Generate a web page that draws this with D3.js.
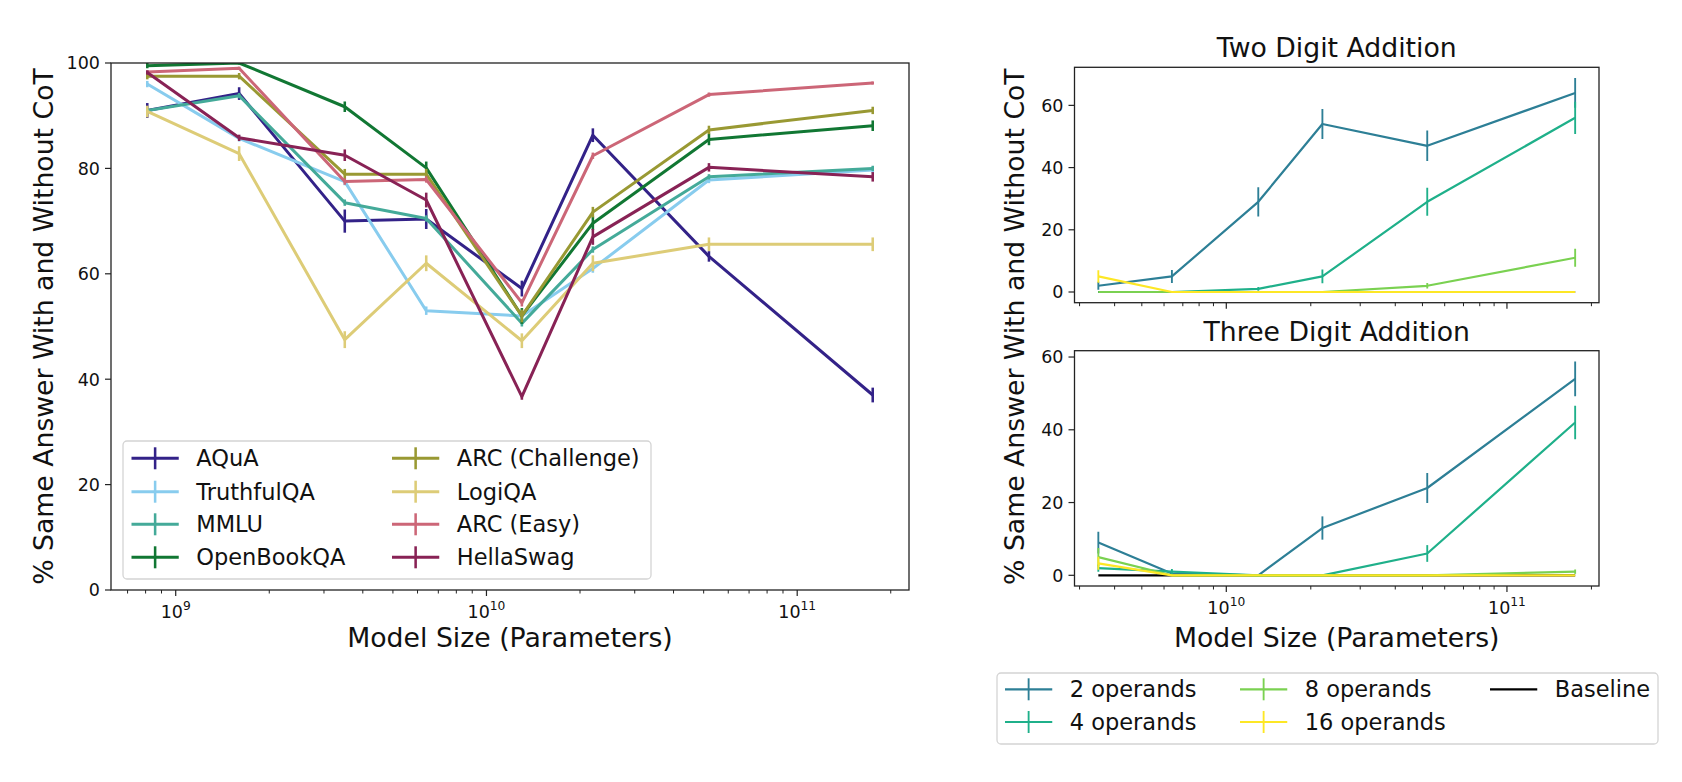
<!DOCTYPE html>
<html>
<head>
<meta charset="utf-8">
<script src="https://cdn.jsdelivr.net/npm/d3@7"></script>
<style>
  body { margin: 0; background: #fff; }
  text { font-family: "DejaVu Sans", sans-serif; fill: #111; }
</style>
</head>
<body>
<svg id="chart" width="1682" height="782"></svg>
<script>
// model sizes (parameters)
const modelSizes = [8.1e8, 1.6e9, 3.5e9, 6.4e9, 1.3e10, 2.2e10, 5.2e10, 1.75e11]
const arithSizes = modelSizes.slice(2)

// left panel: % same answer per benchmark
const benchNames = ['AQuA', 'TruthfulQA', 'MMLU', 'OpenBookQA', 'ARC (Challenge)', 'LogiQA', 'ARC (Easy)', 'HellaSwag']
const benchColors = ['#332288', '#88ccee', '#44aa99', '#117733', '#999933', '#ddcc77', '#cc6677', '#882255']
const aqua = [91.0, 94.2, 70.0, 70.4, 57.2, 86.3, 63.3, 37.0]
const aquaErr = [1.4, 1.2, 2.2, 1.9, 1.5, 1.3, 1.0, 1.4]
const truthfulqa = [96.0, 85.7, 77.5, 53.0, 52.0, 61.0, 77.8, 79.7]
const truthfulqaErr = [0.6, 0.6, 0.7, 0.8, 0.7, 0.8, 0.6, 0.6]
const mmlu = [91.0, 93.8, 73.5, 70.5, 50.6, 64.6, 78.4, 80.0]
const mmluErr = [0.5, 0.5, 0.6, 0.6, 0.6, 0.6, 0.5, 0.5]
const openbookqa = [99.5, 100.0, 91.7, 80.1, 52.0, 69.6, 85.5, 88.1]
const openbookqaErr = [0.5, 0.3, 1.0, 1.2, 1.5, 1.3, 1.1, 1.0]
const arcChallenge = [97.5, 97.5, 78.9, 78.9, 52.0, 71.7, 87.3, 91.0]
const arcChallengeErr = [0.6, 0.6, 1.0, 1.0, 1.2, 1.0, 0.8, 0.7]
const logiqa = [90.8, 82.8, 47.5, 62.0, 47.3, 62.0, 65.6, 65.6]
const logiqaErr = [1.1, 1.4, 1.6, 1.5, 1.4, 1.5, 1.3, 1.3]
const arcEasy = [98.3, 99.0, 77.5, 77.9, 54.5, 82.4, 94.0, 96.2]
const arcEasyErr = [0.3, 0.3, 0.6, 0.6, 0.7, 0.6, 0.4, 0.3]
const hellaswag = [98.2, 85.8, 82.5, 74.0, 36.7, 67.0, 80.2, 78.4]
const hellaswagErr = [0.4, 0.6, 1.1, 1.4, 0.6, 1.5, 0.8, 0.9]
const leftYTicks = [0, 20, 40, 60, 80, 100]

// right panels: addition tasks
const operandNames = ['2 operands', '4 operands', '8 operands', '16 operands', 'Baseline']
const operandColors = ['#2d7f96', '#1fb08a', '#7ad151', '#fde725', '#000000']
const two2 = [2, 5, 29, 54, 47, 64]
const two2Err = [1.3, 2.1, 4.7, 4.8, 4.9, 4.8]
const two4 = [0, 0, 1, 5, 29, 56]
const two4Err = [0, 0, 0.6, 2.2, 4.5, 5.2]
const two8 = [0, 0, 0, 0, 2, 11]
const two8Err = [0, 0, 0, 0, 0.9, 2.9]
const two16 = [5, 0, 0, 0, 0, 0]
const two16Err = [2, 0, 0, 0, 0, 0]
const three2 = [9, 0.5, 0, 13, 24, 54]
const three2Err = [3, 0.5, 0, 3.2, 4.1, 4.8]
const three4 = [2, 1, 0, 0, 6, 42]
const three4Err = [1, 0.7, 0, 0, 2.3, 4.6]
const three8 = [5, 0, 0, 0, 0, 1]
const three8Err = [2.5, 0, 0, 0, 0, 0.6]
const three16 = [3.3, 0, 0, 0, 0, 0]
const three16Err = [1.8, 0, 0, 0, 0, 0]
const baseline = [0, 0, 0, 0, 0, 0]
const rightYTicks = [0, 20, 40, 60]

const svg = d3.select('#chart')
const tickFont = 17.5, labelFont = 26.7, legendFont = 22.5
var clipId = 0

// log domain with matplotlib style 5% margins
function logDomain (xs) {
  var a = Math.log10(d3.min(xs)), b = Math.log10(d3.max(xs)), m = (b - a) * 0.05
  return [Math.pow(10, a - m), Math.pow(10, b + m)]
}
function linDomain (series) {
  var lo = d3.min(series, s => d3.min(s.vals, (v, i) => v - s.errs[i]))
  var hi = d3.max(series, s => d3.max(s.vals, (v, i) => v + s.errs[i]))
  var m = (hi - lo) * 0.05
  return [lo - m, hi + m]
}

function drawPanel (box, xScale, yScale, xs, series, yTicks, lw, showXLabels) {
  var g = svg.append('g')
  var id = 'clip' + (clipId++)
  svg.append('clipPath').attr('id', id).append('rect')
    .attr('x', box.x0).attr('y', box.y0).attr('width', box.x1 - box.x0).attr('height', box.y1 - box.y0)
  var plot = g.append('g').attr('clip-path', 'url(#' + id + ')')
  var line = d3.line().x((d, i) => xScale(xs[i])).y(d => yScale(d))
  series.forEach(function (s) {
    plot.append('path').attr('d', line(s.vals)).attr('fill', 'none')
      .attr('stroke', s.color).attr('stroke-width', lw).attr('stroke-linejoin', 'round')
    s.vals.forEach(function (v, i) {
      if (!s.errs[i]) return
      plot.append('line')
        .attr('x1', xScale(xs[i])).attr('x2', xScale(xs[i]))
        .attr('y1', yScale(v - s.errs[i])).attr('y2', yScale(v + s.errs[i]))
        .attr('stroke', s.color).attr('stroke-width', lw * 0.85)
    })
  })
  // frame
  g.append('rect').attr('x', box.x0).attr('y', box.y0)
    .attr('width', box.x1 - box.x0).attr('height', box.y1 - box.y0)
    .attr('fill', 'none').attr('stroke', '#222').attr('stroke-width', 1.3)
  // y ticks
  yTicks.forEach(function (t) {
    var y = yScale(t)
    g.append('line').attr('x1', box.x0 - 6).attr('x2', box.x0).attr('y1', y).attr('y2', y)
      .attr('stroke', '#222').attr('stroke-width', 1.2)
    g.append('text').attr('x', box.x0 - 11).attr('y', y).attr('dy', '0.36em')
      .attr('text-anchor', 'end').attr('font-size', tickFont).text(t)
  })
  // log x ticks
  xScale.ticks().forEach(function (t) {
    var e = Math.log10(t), major = Math.abs(e - Math.round(e)) < 1e-9
    var x = xScale(t)
    if (x < box.x0 - 0.5 || x > box.x1 + 0.5) return
    g.append('line').attr('x1', x).attr('x2', x).attr('y1', box.y1).attr('y2', box.y1 + (major ? 6 : 3.5))
      .attr('stroke', '#222').attr('stroke-width', major ? 1.2 : 1)
    if (major && showXLabels) {
      var tx = g.append('text').attr('x', x).attr('y', box.y1 + 28)
        .attr('text-anchor', 'middle').attr('font-size', tickFont)
      tx.append('tspan').text('10')
      tx.append('tspan').attr('dy', -8).attr('font-size', tickFont * 0.7).text(Math.round(e))
    }
  })
  return g
}

function drawLegend (box, items, cols, rows, lw) {
  var g = svg.append('g')
  g.append('rect').attr('x', box.x).attr('y', box.y).attr('width', box.w).attr('height', box.h)
    .attr('rx', 4).attr('fill', '#fff').attr('stroke', '#d4d4d4').attr('stroke-width', 1.3)
  items.forEach(function (it, k) {
    var c = Math.floor(k / rows.length), r = k % rows.length
    var hx = cols[c], cy = rows[r], hw = 2 * legendFont * 1.05
    g.append('line').attr('x1', hx).attr('x2', hx + hw).attr('y1', cy).attr('y2', cy)
      .attr('stroke', it.color).attr('stroke-width', lw)
    if (it.err) {
      g.append('line').attr('x1', hx + hw / 2).attr('x2', hx + hw / 2).attr('y1', cy - 11).attr('y2', cy + 11)
        .attr('stroke', it.color).attr('stroke-width', lw * 0.85)
    }
    g.append('text').attr('x', hx + hw + 17.5).attr('y', cy + 8)
      .attr('font-size', legendFont).text(it.name)
  })
}

// ---------- left panel ----------
var leftBox = {x0: 111, x1: 909, y0: 63, y1: 590}
var xLeft = d3.scaleLog().domain(logDomain(modelSizes)).range([leftBox.x0, leftBox.x1])
var yLeft = d3.scaleLinear().domain([0, 100]).range([leftBox.y1, leftBox.y0])
var leftVals = [aqua, truthfulqa, mmlu, openbookqa, arcChallenge, logiqa, arcEasy, hellaswag]
var leftErrs = [aquaErr, truthfulqaErr, mmluErr, openbookqaErr, arcChallengeErr, logiqaErr, arcEasyErr, hellaswagErr]
var leftSeries = leftVals.map((v, i) => ({vals: v, errs: leftErrs[i], color: benchColors[i]}))
drawPanel(leftBox, xLeft, yLeft, modelSizes, leftSeries, leftYTicks, 3, true)

svg.append('text').attr('transform', 'translate(53,' + (leftBox.y0 + leftBox.y1) / 2 + ') rotate(-90)')
  .attr('text-anchor', 'middle').attr('font-size', labelFont).text('% Same Answer With and Without CoT')
svg.append('text').attr('x', (leftBox.x0 + leftBox.x1) / 2).attr('y', 647)
  .attr('text-anchor', 'middle').attr('font-size', labelFont).text('Model Size (Parameters)')

drawLegend({x: 123, y: 441, w: 528, h: 138},
  benchNames.map((n, i) => ({name: n, color: benchColors[i], err: true})),
  [131.5, 392], [458.3, 491.7, 524.3, 557.3], 3)

// ---------- right panels ----------
var xRight = d3.scaleLog().domain(logDomain(arithSizes))
function rightSeries (vals, errs) {
  var s = [{vals: baseline, errs: baseline, color: operandColors[4]}]
  vals.forEach((v, i) => s.push({vals: v, errs: errs[i], color: operandColors[i]}))
  return s
}
var topBox = {x0: 1074.5, x1: 1599, y0: 67.3, y1: 302.7}
var topSeries = rightSeries([two2, two4, two8, two16], [two2Err, two4Err, two8Err, two16Err])
var yTop = d3.scaleLinear().domain(linDomain(topSeries)).range([topBox.y1, topBox.y0])
xRight.range([topBox.x0, topBox.x1])
drawPanel(topBox, xRight, yTop, arithSizes, topSeries, rightYTicks, 2.2, false)
svg.append('text').attr('x', (topBox.x0 + topBox.x1) / 2).attr('y', 57.3)
  .attr('text-anchor', 'middle').attr('font-size', labelFont).text('Two Digit Addition')

var botBox = {x0: 1074.5, x1: 1599, y0: 350.7, y1: 586}
var botSeries = rightSeries([three2, three4, three8, three16], [three2Err, three4Err, three8Err, three16Err])
var yBot = d3.scaleLinear().domain(linDomain(botSeries)).range([botBox.y1, botBox.y0])
drawPanel(botBox, xRight, yBot, arithSizes, botSeries, rightYTicks, 2.2, true)
svg.append('text').attr('x', (botBox.x0 + botBox.x1) / 2).attr('y', 340.7)
  .attr('text-anchor', 'middle').attr('font-size', labelFont).text('Three Digit Addition')
svg.append('text').attr('x', (botBox.x0 + botBox.x1) / 2).attr('y', 647)
  .attr('text-anchor', 'middle').attr('font-size', labelFont).text('Model Size (Parameters)')
svg.append('text').attr('transform', 'translate(1024,' + (topBox.y0 + botBox.y1) / 2 + ') rotate(-90)')
  .attr('text-anchor', 'middle').attr('font-size', labelFont).text('% Same Answer With and Without CoT')

drawLegend({x: 997, y: 673, w: 661, h: 71},
  operandNames.map((n, i) => ({name: n, color: operandColors[i], err: i < 4})),
  [1005, 1240, 1490], [689.3, 722], 2.2)
</script>
</body>
</html>
